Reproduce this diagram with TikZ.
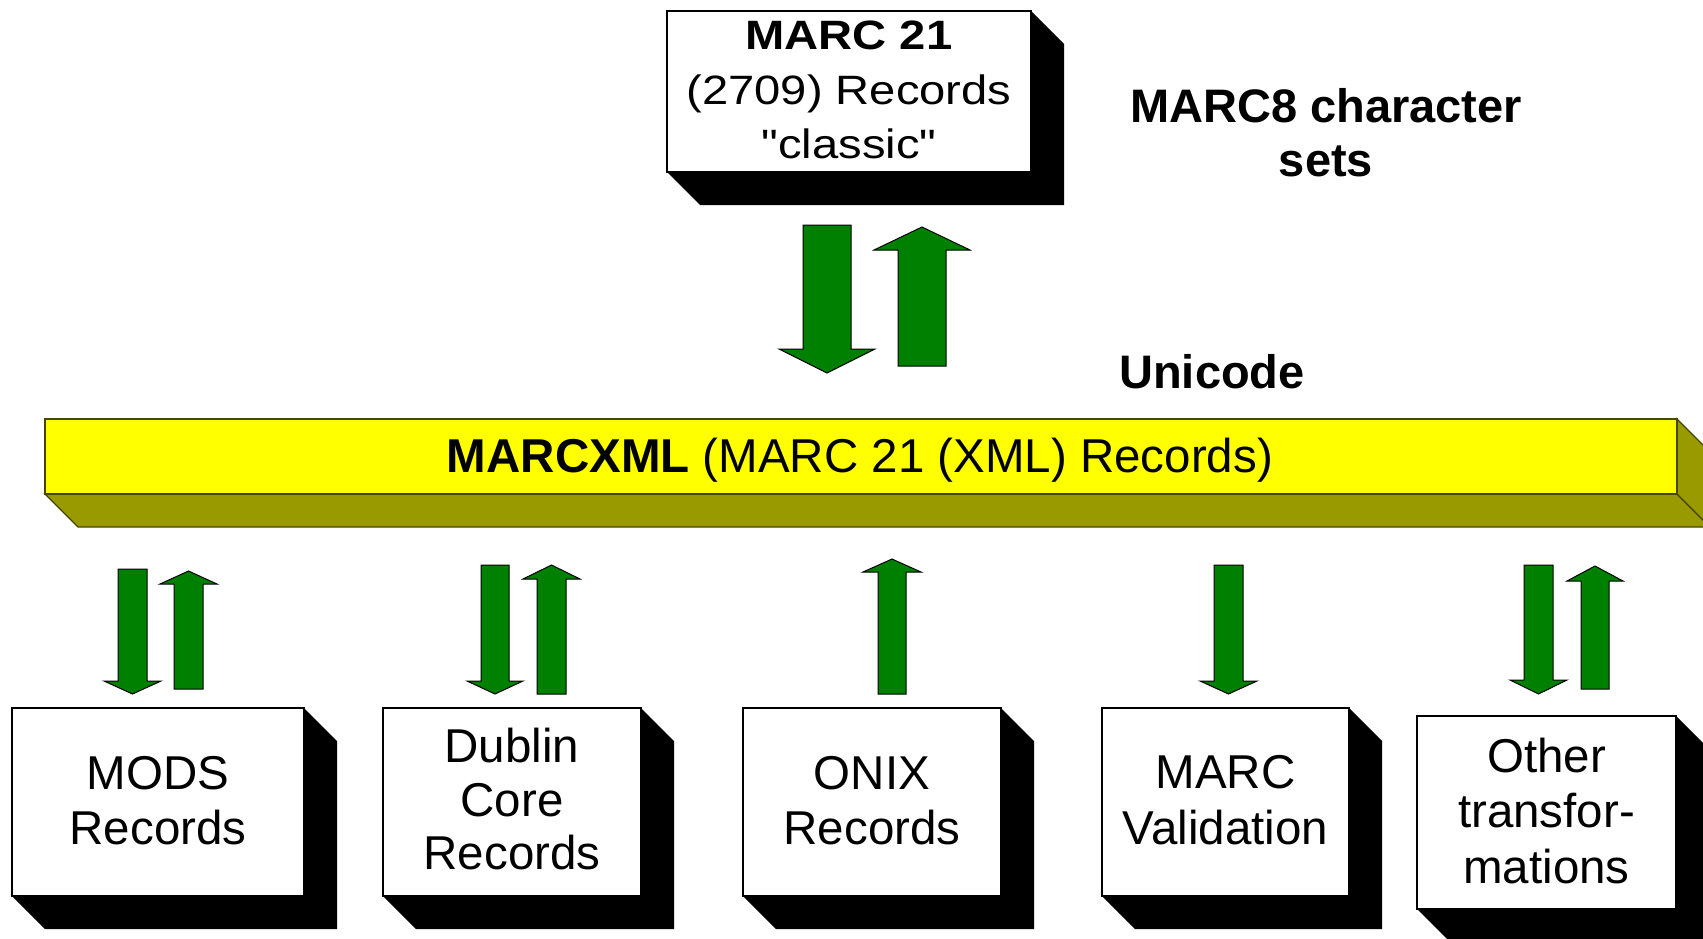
\documentclass[tikz,border=0pt]{standalone}
\usepackage{fontspec}
\setmainfont{Liberation Sans}
\newfontfamily\widefont{Liberation Sans}[FakeStretch=1.15]
\usetikzlibrary{backgrounds}
\definecolor{arrgreen}{RGB}{0,128,0}
\definecolor{baryellow}{RGB}{255,255,0}
\definecolor{barolive}{RGB}{153,153,0}
\definecolor{baredge}{RGB}{70,70,0}
% block arrow: #1 shaft left x, #2 shaft right x, #3 shaft end y, #4 head base y, #5 tip y, #6 head overhang
\newcommand\blockarr[6]{\draw[blockarrow] (#1,#3) -- (#2,#3) -- (#2,#4) -- ({#2+#6},#4) -- ({(#1+#2)/2},#5) -- ({#1-#6},#4) -- (#1,#4) -- cycle;}
\newcommand\boxshade[1]{\fill[black] (#1.north east) -- ([shift={(33,33)}]#1.north east) -- ([shift={(33,33)}]#1.south east) -- ([shift={(33,33)}]#1.south west) -- (#1.south west) -- cycle;}
\tikzset{
  blockarrow/.style={fill=arrgreen, draw=black, line width=1pt, line join=miter},
  whitebox/.style={draw=black, fill=white, line width=1.3pt, inner sep=0pt, outer sep=0pt},
  boxtext/.style={align=center, inner sep=0pt, font=\fontsize{47.5}{55}\selectfont},
  bigbold/.style={align=center, inner sep=0pt, font=\bfseries\fontsize{47}{54}\selectfont},
  barface/.style={fill=baryellow, draw=baredge, line width=1.3pt, inner sep=0pt, outer sep=0pt},
  depthface/.style={fill=barolive, draw=baredge, line width=1.3pt, line join=miter}
}
\begin{document}
\begin{tikzpicture}[x=1pt,y=-1pt]
\useasboundingbox (0,0) rectangle (1703,938);

% top box
\node[whitebox, minimum width=364pt, minimum height=161pt] (marc) at (849,91.5) {};
\node[align=center, inner sep=0pt, font=\widefont\fontsize{41}{54.5}\selectfont] (marctext) at (849,90)
  {\textbf{MARC 21}\\(2709) Records\\"classic"};

% side labels
\node[bigbold] (charsets) at (1326,133) {MARC8 character\\sets};
\node[bigbold, anchor=base] (unicode) at (1212,388) {Unicode};

% bar
\node[barface, minimum width=1632pt, minimum height=75pt] (bar) at (861,456.5) {};
\node[inner sep=0pt, anchor=base, font=\fontsize{47.5}{55}\selectfont] (bartext) at (860,472)
  {\textbf{MARCXML} (MARC 21 (XML) Records)};

% bottom boxes
\node[whitebox, minimum width=292pt, minimum height=188pt] (mods) at (158,802) {};
\node[whitebox, minimum width=258pt, minimum height=188pt] (dc) at (512,802) {};
\node[whitebox, minimum width=258pt, minimum height=188pt] (onix) at (872,802) {};
\node[whitebox, minimum width=247pt, minimum height=188pt] (valid) at (1225.5,802) {};
\node[whitebox, minimum width=259pt, minimum height=193pt] (other) at (1546.5,812.5) {};

\node[boxtext] (modstext) at (158,800.5) {MODS\\Records};
\node[boxtext, font=\fontsize{47.5}{53.5}\selectfont] (dctext) at (512,799.5) {Dublin\\Core\\Records};
\node[boxtext] (onixtext) at (872,800.5) {ONIX\\Records};
\node[boxtext, font=\fontsize{47.5}{56}\selectfont] (validtext) at (1225.5,800) {MARC\\Validation};
\node[boxtext, font=\fontsize{47.5}{55.5}\selectfont] (othertext) at (1546.5,811) {Other\\transfor-\\mations};

\begin{scope}[on background layer]
  \fill[white] (0,0) rectangle (1703,938);
  \boxshade{marc}
  \boxshade{mods}
  \boxshade{dc}
  \boxshade{onix}
  \boxshade{valid}
  \boxshade{other}
  \draw[depthface] (bar.south west) -- ([shift={(33,33)}]bar.south west) -- ([shift={(33,33)}]bar.south east) -- (bar.south east) -- cycle;
  \draw[depthface] (bar.north east) -- ([shift={(33,33)}]bar.north east) -- ([shift={(33,33)}]bar.south east) -- (bar.south east) -- cycle;
\end{scope}

% arrows between top box and bar
\blockarr{803}{851}{225}{349}{373}{24}
\blockarr{898}{946}{366}{250}{227}{24}

% arrows between bar and bottom boxes
\blockarr{118}{147}{569}{681}{694}{14}
\blockarr{174}{203}{689}{584}{571}{14}
\blockarr{481}{509}{565}{681}{694}{14}
\blockarr{537}{566}{694}{579}{565}{14}
\blockarr{878}{906}{694}{572}{559}{15}
\blockarr{1214}{1243}{565}{681}{694}{14}
\blockarr{1524}{1553}{565}{680}{694}{14}
\blockarr{1581}{1609}{689}{581}{566}{14}
\end{tikzpicture}
\end{document}
